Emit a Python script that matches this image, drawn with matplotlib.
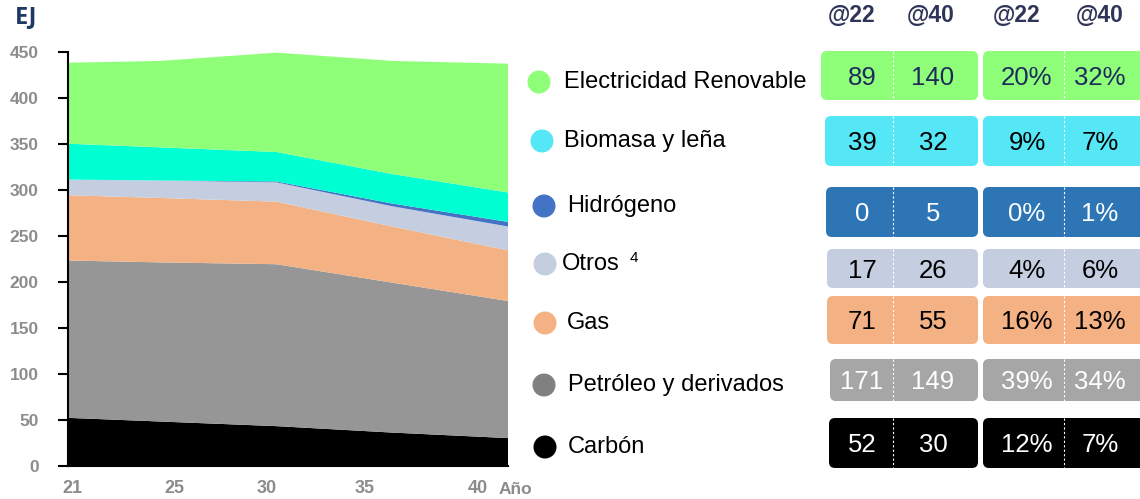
import matplotlib.pyplot as plt
from matplotlib.patches import FancyBboxPatch, Circle

plt.rcParams['font.family'] = ['Liberation Sans', 'DejaVu Sans']

# Data (EJ)
years = [21, 25, 30, 35, 40]
carbon = [52, 48, 43, 36, 30]
petroleo = [171, 173, 176, 163, 149]
gas = [71, 70, 68, 61, 55]
otros = [17, 19, 21, 22, 26]
hidrogeno = [0, 0, 1, 3, 5]
biomasa = [39, 36, 32, 32, 32]
electricidad = [88, 94, 108, 123, 140]

# Table on the right: values @22, @40 and shares @22, @40
labels = ["Electricidad Renovable", "Biomasa y leña", "Hidrógeno", "Otros",
          "Gas", "Petróleo y derivados", "Carbón"]
val22 = ["89", "39", "0", "17", "71", "171", "52"]
val40 = ["140", "32", "5", "26", "55", "149", "30"]
pct22 = ["20%", "9%", "0%", "4%", "16%", "39%", "12%"]
pct40 = ["32%", "7%", "1%", "6%", "13%", "34%", "7%"]

xtick_labels = ["21", "25", "30", "35", "40"]

# colours
area_colors = ["#000000", "#969696", "#F4B183", "#C4CEE0", "#4472C4", "#00FFD2", "#8FFF7A"]
dot_colors = ["#8FFF7A", "#55E7F5", "#4472C4", "#C4CEE0", "#F4B183", "#808080", "#000000"]
box_colors = ["#8FFF7A", "#55E7F5", "#2E75B6", "#C4CEE0", "#F4B183", "#A6A6A6", "#000000"]
box_text = ["#1F2A5C", "black", "white", "black", "black", "white", "white"]
gray = "#8C8C8C"
navy = "#1F3864"

fig = plt.figure(figsize=(11.4, 4.99), dpi=100)

# stacked area chart
W, H = 1140, 499
ax = fig.add_axes([68 / W, 1 - 465.7 / H, 440 / W, (465.7 - 51.7) / H])
ax.stackplot(years, carbon, petroleo, gas, otros, hidrogeno, biomasa, electricidad,
             colors=area_colors, linewidth=0)
ax.set_xlim(21, 40)
ax.set_ylim(0, 450)
ax.set_yticks(range(0, 451, 50))
ax.tick_params(axis='y', length=7, width=1.5, pad=14, labelsize=12.5, labelcolor=gray)
for t in ax.get_yticklabels():
    t.set_fontweight('bold')
# label positions as they sit in the reference
ax.set_xticks([21.2, 25.6, 29.6, 33.8, 38.7])
ax.set_xticklabels(xtick_labels, fontsize=13, color=gray, fontweight='bold')
ax.tick_params(axis='x', length=0, pad=10)
ax.spines['top'].set_visible(False)
ax.spines['right'].set_visible(False)
ax.spines['left'].set_linewidth(1.5)
ax.spines['bottom'].set_linewidth(1.5)

# overlay in pixel coordinates for the texts, legend and table
ov = fig.add_axes([0, 0, 1, 1])
ov.set_xlim(0, W)
ov.set_ylim(H, 0)
ov.axis('off')
ov.patch.set_visible(False)

ov.text(15, 17, "EJ", fontsize=17, fontweight='bold', color=navy, va='center',
        family=['Open Sans', 'DejaVu Sans'])
ov.text(499, 490, "Año", fontsize=12.5, fontweight='bold', color=gray, va='center')

# legend
dot_x = [539, 542, 544, 545, 545, 544, 545]
text_x = [564, 564, 567, 562, 567, 568, 568]
row_y = [82, 141, 206, 264, 323, 385, 447]
for i in range(7):
    ov.add_patch(Circle((dot_x[i], row_y[i]), 11.5, color=dot_colors[i], lw=0))
    ov.text(text_x[i], row_y[i], labels[i], fontsize=17, va='center', ha='left')
ov.text(630, 258, "4", fontsize=11, va='center')

# headers
head_x = [852, 931, 1017, 1100]
for hx, h in zip(head_x, ["@22", "@40", "@22", "@40"]):
    ov.text(hx, 15, h, fontsize=16.5, fontweight='bold', color="#2F3558", ha='center', va='center')

# table boxes
box_top = [51, 116, 187, 249, 296, 359, 418]
box_bot = [100, 166, 237, 288, 344, 401, 468]
box_left = [821, 825, 826, 827, 827, 830, 829]
g1_right = 978
g2_left = 983
g2_right = 1146
col_x = [862, 933, 1027, 1100]
for i in range(7):
    top, bot = box_top[i], box_bot[i]
    for x0, x1 in [(box_left[i], g1_right), (g2_left, g2_right)]:
        ov.add_patch(FancyBboxPatch((x0, top), x1 - x0, bot - top,
                                    boxstyle="round,pad=0,rounding_size=6",
                                    fc=box_colors[i], ec='none'))
    for sx in [893, 1064]:
        ov.plot([sx, sx], [top, bot], color='white', lw=0.8, ls=(0, (2, 2)))
    yc = (top + bot) / 2 + 2
    for cx, s in zip(col_x, [val22[i], val40[i], pct22[i], pct40[i]]):
        ov.text(cx, yc, s, fontsize=18.5, color=box_text[i], ha='center', va='center')

fig.savefig("out.png", dpi=100)
